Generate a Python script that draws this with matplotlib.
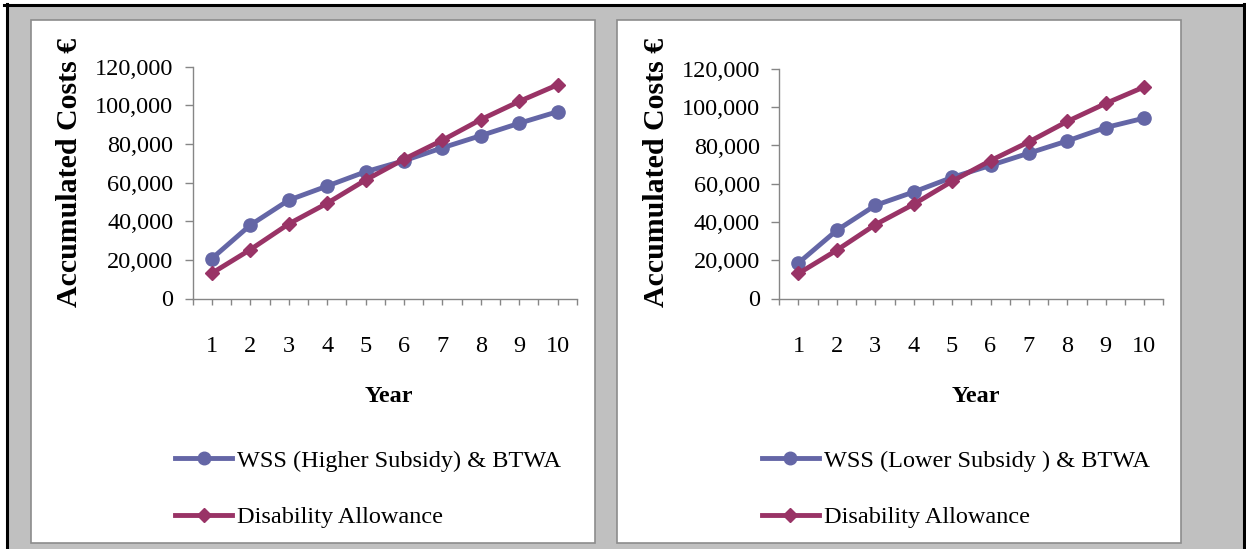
import matplotlib
matplotlib.use("Agg")
import matplotlib.pyplot as plt
from matplotlib.patches import Rectangle
from matplotlib.lines import Line2D
from matplotlib.ticker import FuncFormatter, FixedLocator

# chart data
years = [1, 2, 3, 4, 5, 6, 7, 8, 9, 10]
wss_higher = [20700, 38000, 50900, 58200, 65600, 71300, 78000, 84300, 90700, 96700]
wss_lower = [18600, 35700, 48700, 55700, 63300, 69600, 76000, 82400, 89400, 94300]
disability = [13100, 25300, 38600, 49300, 61300, 72100, 81900, 92600, 102000, 110600]
labels_left = ["WSS (Higher Subsidy) & BTWA", "Disability Allowance"]
labels_right = ["WSS (Lower Subsidy ) & BTWA", "Disability Allowance"]
y_ticks = [0, 20000, 40000, 60000, 80000, 100000, 120000]

W, H = 1246, 549
BLUE = "#6466a6"
RED = "#993366"
AXIS_GRAY = "#868686"
SERIF = ["Liberation Serif", "DejaVu Serif"]
FS = 17.5

plt.rcParams["font.family"] = SERIF


def fx(px):
    return px / W


def fy(py):
    return 1 - py / H


fig = plt.figure(figsize=(W / 100, H / 100), dpi=100)
fig.patch.set_facecolor("white")

# gray page background and black frame
fig.patches.append(Rectangle((fx(7), 0), fx(1236), fy(6), transform=fig.transFigure,
                             facecolor="#c0c0c0", edgecolor="none", zorder=-3))
for xs, ys in [((fx(4), fx(1245)), (fy(5), fy(5))),
               ((fx(6.5), fx(6.5)), (fy(4), 0)),
               ((fx(1243.5), fx(1243.5)), (fy(4), 0))]:
    fig.lines.append(Line2D(xs, ys, transform=fig.transFigure, color="black", lw=2.2,
                            zorder=-2))

# white panels
for left in (31, 617):
    fig.patches.append(Rectangle((fx(left), fy(543)), fx(564), (543 - 19.5) / H,
                                 transform=fig.transFigure, facecolor="white",
                                 edgecolor="#8c8c8c", lw=1.2, zorder=-2))


def draw_chart(offset, top_px, wss, labels):
    ax = fig.add_axes([fx(192.7 + offset), fy(298.5), fx(384), (298.5 - top_px) / H])
    ax.set_facecolor("none")
    ax.plot(years, wss, color=BLUE, lw=3.5, marker="o", ms=9.5, mfc=BLUE, mec=BLUE,
            label=labels[0], solid_joinstyle="round")
    ax.plot(years, disability, color=RED, lw=3.5, marker="D", ms=7.5, mfc=RED, mec=RED,
            label=labels[1], solid_joinstyle="round")
    ax.set_xlim(0.5, 10.5)
    ax.set_ylim(0, 120000)
    for s in ("top", "right"):
        ax.spines[s].set_visible(False)
    for s in ("left", "bottom"):
        ax.spines[s].set_color(AXIS_GRAY)
        ax.spines[s].set_linewidth(1.0)
    ax.set_yticks(y_ticks)
    ax.yaxis.set_major_formatter(FuncFormatter(lambda v, p: f"{int(v):,}"))
    ax.set_xticks(years)
    ax.set_xticklabels([str(y) for y in years])
    ax.xaxis.set_minor_locator(FixedLocator([x + 0.5 for x in range(0, 11)]))
    ax.tick_params(axis="y", direction="out", length=6, width=1, color=AXIS_GRAY,
                   labelsize=FS, pad=8)
    ax.tick_params(axis="x", which="major", direction="out", length=4, width=1,
                   color=AXIS_GRAY, labelsize=FS, pad=23)
    ax.tick_params(axis="x", which="minor", direction="out", length=4, width=1,
                   color=AXIS_GRAY)
    fig.text(fx(389 + offset), fy(397), "Year", ha="center", va="center",
             fontsize=FS, fontweight="bold")
    fig.text(fx(70 + offset), fy(172), "Accumulated Costs €", ha="center", va="center",
             rotation=90, fontsize=21.5, fontweight="bold")
    ax.legend(loc="center left", bbox_to_anchor=(fx(175 + offset), fy(489)),
              bbox_transform=fig.transFigure, frameon=False, fontsize=FS,
              handlelength=2.35, handletextpad=0.22, labelspacing=1.42,
              borderpad=0, borderaxespad=0, markerscale=0.95)
    return ax


draw_chart(0, 66.7, wss_higher, labels_left)
draw_chart(586.6, 69, wss_lower, labels_right)

fig.savefig("out.png", dpi=100)
